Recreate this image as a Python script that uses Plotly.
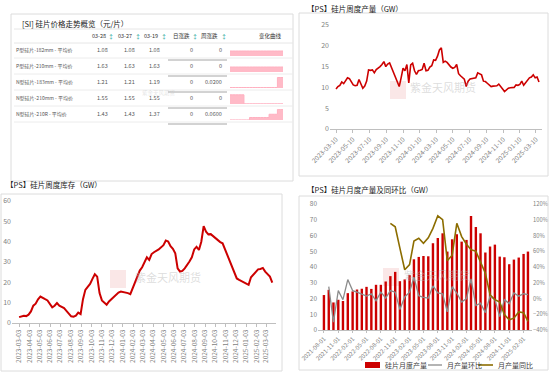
import plotly.graph_objects as go
import pandas as pd

W, H = 550, 373
def X(p): return p / W
def Y(p): return 1 - p / H

FONT = "Noto Sans CJK SC, Noto Sans, sans-serif"
GRAY = "#7f7f7f"
AXC = "#bfbfbf"

# ---------------- data ----------------
# table
tbl_title = "[SI] 硅片价格走势概览（元/片）"
tbl_headers = ["03-28", "03-27", "03-19", "日涨跌", "周涨跌"]
row_labels = ["P型硅片-182mm - 平均价", "P型硅片-210mm - 平均价", "N型硅片-183mm - 平均价",
              "N型硅片-210mm - 平均价", "N型硅片-210R - 平均价"]
p_0328 = ["1.08", "1.63", "1.21", "1.55", "1.43"]
p_0327 = ["1.08", "1.63", "1.21", "1.55", "1.43"]
p_0319 = ["1.08", "1.63", "1.19", "1.55", "1.37"]
day_chg = ["0", "0", "0", "0", "0"]
week_chg = ["0", "0", "0.0200", "0", "0.0600"]
spark1 = [1.08] * 20
spark2 = [1.63] * 20
spark3 = [1.19] * 17 + [1.21] * 3
spark4 = [1.60] * 5 + [1.55] * 15
spark5 = [1.30] * 7 + [1.33] * 7 + [1.37] * 3 + [1.43] * 3
sparks = [spark1, spark2, spark3, spark4, spark5]
spark_ranges = [[1.07, 1.092], [1.62, 1.642], [1.189, 1.211], [1.549, 1.61], [1.299, 1.435]]

# weekly production (GW)
prod_start = "2023-03-10"
prod_vals = [9.6, 10.2, 10.5, 11.3, 10.9, 11.5, 12.3, 12.1, 11.2, 10.6,
             10.4, 10.5, 11.9, 11.0, 9.8, 10.3, 11.5, 14.2, 14.1, 14.2,
             13.5, 14.3, 14.6, 15.0, 15.5, 16.2, 15.0, 15.6, 15.9, 14.8,
             13.5, 12.2, 11.5, 10.2, 12.3, 14.6, 14.0, 15.5, 11.1, 15.4,
             15.8, 14.0, 13.1, 14.0, 14.1, 14.3, 15.8, 14.0, 14.1, 14.9,
             15.2, 16.6, 16.5, 17.5, 19.0, 19.5, 16.0, 16.3, 16.0, 15.3,
             14.9, 14.6, 14.8, 15.5, 13.3, 12.8, 12.3, 12.0, 10.2, 11.5,
             12.0, 12.1, 12.2, 12.3, 13.5, 13.3, 13.0, 11.5, 11.4, 11.0,
             10.6, 10.2, 10.3, 10.3, 10.4, 10.8, 10.3, 9.6, 9.0, 9.4,
             9.8, 9.9, 9.9, 10.0, 10.6, 10.5, 10.7, 11.5, 10.5, 11.2,
             11.9, 12.3, 12.5, 13.0, 12.3, 12.5, 11.3]
prod_dates = pd.date_range(prod_start, periods=len(prod_vals), freq="7D")

# weekly inventory (GW)
inv_start = "2023-03-03"
inv_vals = [2.9, 3.1, 3.6, 3.4, 4.1, 5.7, 8.5, 9.5, 11.7, 13.0,
            12.2, 11.7, 11.1, 9.5, 7.7, 8.5, 9.8, 8.5, 8.0, 7.3,
            6.0, 4.9, 3.3, 3.1, 3.6, 5.1, 4.4, 11.7, 16.3, 17.8, 19.2,
            21.7, 24.0, 22.8, 14.7, 11.1, 10.1, 9.0, 10.6, 11.7, 13.0,
            14.2, 15.0, 15.5, 15.3, 15.0, 14.7, 14.2, 17.1, 20.4, 23.7,
            25.8, 27.4, 30.2, 32.3, 31.0, 33.9, 34.8, 35.4, 36.2, 37.2, 38.3,
            40.6, 40.1, 37.8, 36.5, 34.3, 26.9, 25.3, 25.6, 26.9, 28.4,
            30.2, 32.3, 36.2, 37.5, 35.9, 40.0, 47.6, 44.9, 43.6, 43.7,
            42.7, 41.6, 40.8, 39.8, 39.2, 36.2, 33.4, 30.2, 26.9, 24.1,
            21.9, 21.2, 20.7, 19.9, 19.6, 18.8, 22.5, 23.7, 25.0, 26.4, 26.6,
            27.1, 25.3, 24.1, 22.8, 19.9]
inv_dates = pd.date_range(inv_start, periods=len(inv_vals), freq="7D")

# monthly production (GW) and MoM / YoY (%)
month_start = "2021-08-01"
month_prod = [22.2, 25.5, 17.5, 19.2, 18.4, 23.4, 24.5, 25.7, 26.2, 27.4,
              26.1, 28.7, 28.7, 30.8, 34.2, 36.9, 31.0, 32.1, 35.0, 44.9,
              46.4, 47.0, 46.8, 55.1, 58.4, 61.4, 49.8, 57.6, 60.8, 56.1,
              57.2, 72.4, 65.4, 61.4, 49.2, 53.0, 54.2, 46.6, 46.2, 41.8,
              44.7, 46.0, 48.3, 49.8]
month_mom = [None, 15, -30, 10, -1.5, 24, 10, 8, 5, 3,
             6, -3, 8, 0.6, 10, 8, -14, 2, 8, 27,
             3.5, 1.5, 0.6, 16, 7, 6, -17, 15, 7, -4.5,
             0, 25, -9, -6, -18, 3, -1.5, -23, -1.5, -6.5,
             7, 3, 6, 5]
month_yoy = [None] * 14 + [95.5, 91, 64, 36.5, 43, 73, 76.5, 70, 77, 89,
                           105, 100, 48, 55, 95.5, 78.6, 69, 62, 60, 45,
                           32, 4.8, -1.5, -4.5, -20.5, -27, -25, -17, -18, -29]
month_dates = pd.date_range(month_start, periods=len(month_prod), freq="MS")
legend_names = ["硅片月度产量", "月产量环比", "月产量同比"]
BAR_C, MOM_C, YOY_C = "#cc0000", "#8c8c8c", "#8c6d00"

# ---------------- figure ----------------
fig = go.Figure()

fig.add_trace(go.Scatter(x=prod_dates, y=prod_vals, mode="lines", xaxis="x", yaxis="y",
                         line=dict(color="#cc0000", width=1.6), showlegend=False))
fig.add_trace(go.Scatter(x=inv_dates, y=inv_vals, mode="lines", xaxis="x2", yaxis="y2",
                         line=dict(color="#cc0000", width=2), showlegend=False))
fig.add_trace(go.Bar(x=month_dates, y=month_prod, name=legend_names[0], xaxis="x3", yaxis="y3",
                     marker=dict(color=BAR_C, line=dict(width=0)), showlegend=False))
fig.add_trace(go.Scatter(x=month_dates, y=month_mom, name=legend_names[1], mode="lines",
                         xaxis="x3", yaxis="y4", line=dict(color=MOM_C, width=1.3), showlegend=False))
fig.add_trace(go.Scatter(x=month_dates, y=month_yoy, name=legend_names[2], mode="lines",
                         xaxis="x3", yaxis="y4", line=dict(color=YOY_C, width=1.6), showlegend=False))

row_y = [50, 66, 82, 98, 114]
for i, s in enumerate(sparks):
    n = 5 + i
    fig.add_trace(go.Scatter(x=list(range(len(s))), y=s, mode="lines", line_shape="hv",
                             fill="tozeroy", fillcolor="rgba(255,182,196,0.95)",
                             line=dict(color="#ffb0c0", width=1),
                             xaxis=f"x{n}", yaxis=f"y{n}", showlegend=False, hoverinfo="skip"))

tickfont = dict(size=6.5, color=GRAY, family=FONT)
common = dict(automargin=False, showgrid=False, zeroline=False)
layout = dict(
    template="none",
    width=W, height=H, autosize=False,
    margin=dict(l=0, r=0, t=0, b=0, pad=0),
    paper_bgcolor="white", plot_bgcolor="rgba(0,0,0,0)",
    font=dict(family=FONT, size=8, color="#333"),
    bargap=0.45,
    showlegend=False,
    xaxis=dict(domain=[X(330), X(542)], range=["2023-02-16", "2025-04-01"], anchor="y",
               type="date", tick0="2023-03-10", dtick="M2", tickformat="%Y-%m-%d",
               tickangle=-45, tickfont=tickfont, showline=True, linecolor=AXC,
               ticks="outside", ticklen=3, tickcolor=AXC, **common),
    yaxis=dict(domain=[Y(129), Y(25)], range=[0, 25], dtick=5, anchor="x", ticks="",
               tickfont=dict(size=7, color=GRAY), showline=False, **common),
    xaxis2=dict(domain=[X(12), X(276)], range=["2023-02-10", "2025-04-01"], anchor="y2",
                type="date", tick0="2023-03-03", dtick="M1", tickformat="%Y-%m-%d",
                tickangle=-90, tickfont=tickfont, showline=True, linecolor=AXC,
                ticks="outside", ticklen=3, tickcolor=AXC, **common),
    yaxis2=dict(domain=[Y(323), Y(201)], range=[0, 60], dtick=10, anchor="x2", ticks="",
                tickfont=dict(size=7, color=GRAY), showline=False, **common),
    xaxis3=dict(domain=[X(318), X(532)], range=["2021-06-24", "2025-03-27"], anchor="y3",
                type="date", tick0="2021-08-01", dtick="M3", tickformat="%Y-%m-%d",
                tickangle=-45, tickfont=dict(size=6, color=GRAY), showline=True, linecolor=AXC,
                ticks="outside", ticklen=2, tickcolor=AXC, **common),
    yaxis3=dict(domain=[Y(330), Y(204)], range=[0, 80], dtick=10, anchor="x3", ticks="",
                tickfont=dict(size=6.5, color=GRAY), showline=False, **common),
    yaxis4=dict(domain=[Y(330), Y(204)], range=[-40, 120], dtick=20, ticksuffix="%",
                overlaying="y3", side="right", anchor="x3", ticks="",
                tickfont=dict(size=5.8, color=GRAY), showline=False, **common),
)
for i in range(5):
    n = 5 + i
    layout[f"xaxis{n}"] = dict(domain=[X(230), X(283)], range=[0, 19], visible=False,
                               anchor=f"y{n}", fixedrange=True, automargin=False)
    layout[f"yaxis{n}"] = dict(domain=[Y(row_y[i] + 6), Y(row_y[i] - 5)], range=spark_ranges[i],
                               visible=False, anchor=f"x{n}", fixedrange=True, automargin=False)
fig.update_layout(**layout)

shapes = []
def rect(x0, y0, x1, y1, color="#dcdcdc", width=1, fill=None):
    shapes.append(dict(type="rect", xref="paper", yref="paper", x0=X(x0), x1=X(x1),
                       y0=Y(y1), y1=Y(y0), line=dict(color=color, width=width),
                       fillcolor=fill))
def hline(x0, x1, y, color, width=1):
    shapes.append(dict(type="line", xref="paper", yref="paper", x0=X(x0), x1=X(x1),
                       y0=Y(y), y1=Y(y), line=dict(color=color, width=width)))

# panel borders
rect(11, 14, 293, 181)
rect(299, 13, 548, 176)
rect(1, 194, 282, 371)
rect(299, 196, 548, 370)

# table grid lines
hline(14, 293, 29, "#e6e6e6")
hline(14, 293, 43, "#e6e6e6")
for y in [58, 74, 90, 106, 122]:
    hline(14, 293, y, "#ececec")
for y in [60, 76, 92, 108, 124]:
    hline(168, 227, y, "#a6a6a6", 1)

# watermark seals
for (sx, sy) in [(390, 81), (110, 270), (383, 268)]:
    shapes.append(dict(type="rect", xref="paper", yref="paper", x0=X(sx), x1=X(sx + 16),
                       y0=Y(sy + 18), y1=Y(sy), fillcolor="rgba(230,120,120,0.18)",
                       line=dict(width=0), layer="below"))

# manual legend for bottom-right chart
rect(365, 362, 380, 368, color=BAR_C, width=0, fill=BAR_C)
hline(428, 442, 365, MOM_C, 1.3)
hline(478, 493, 365, YOY_C, 1.6)
fig.update_layout(shapes=shapes)

ann = []
def txt(x, y, s, size=8, color="#333", xanchor="left", **kw):
    ann.append(dict(x=X(x), y=Y(y), xref="paper", yref="paper", text=s, showarrow=False,
                    xanchor=xanchor, yanchor="middle", font=dict(size=size, color=color, family=FONT), **kw))

# titles
txt(20, 23, tbl_title, size=7.5, color="#222")
txt(305, 8, "【PS】硅片周度产量（GW）", size=7.5, color="#222")
txt(4, 184, "【PS】硅片周度库存（GW）", size=7.5, color="#222")
txt(305, 189, "【PS】硅片月度产量及同环比（GW）", size=7.5, color="#222")

# table header
hdr_x = [108, 134, 160, 192, 220]
icon_x = [111, 138, 164, 195, 224]
for hx, ix, h in zip(hdr_x, icon_x, tbl_headers):
    txt(hx, 36, h, size=5.5, color="#333", xanchor="right")
    txt(ix, 37, "↕", size=6, color="#26a69a", xanchor="center")
txt(284, 36, "变化曲线", size=5.5, color="#333", xanchor="right")

val_x = [110, 137, 162, 195, 224]
for r in range(5):
    y = row_y[r]
    txt(14, y, row_labels[r], size=5, color="#555")
    for cx, col in zip(val_x, [p_0328, p_0327, p_0319, day_chg, week_chg]):
        txt(cx, y, col[r], size=5.5, color="#555", xanchor="right")

# legend texts
txt(383, 365, legend_names[0], size=7, color="#404040")
txt(445, 365, legend_names[1], size=7, color="#404040")
txt(496, 365, legend_names[2], size=7, color="#404040")

# watermarks
wm = "rgba(180,180,180,0.45)"
txt(408, 87, "紫金天风期货", size=11, color=wm)
txt(133, 277, "紫金天风期货", size=11, color=wm)
txt(402, 275, "紫金天风期货", size=11, color=wm)
txt(140, 93, "紫金天风期货", size=5.5, color="rgba(180,180,180,0.35)")
fig.update_layout(annotations=ann)

fig.write_html("out.html", config={"displayModeBar": False, "responsive": False},
               post_script="document.body.style.margin='0';")
